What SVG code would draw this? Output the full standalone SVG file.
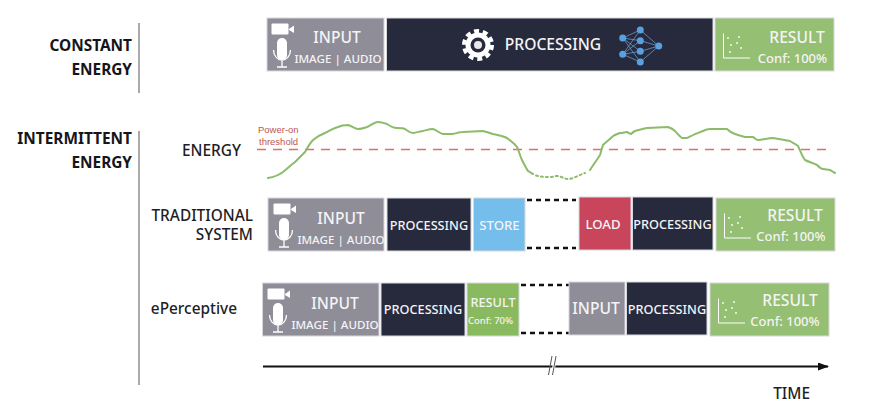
<svg xmlns="http://www.w3.org/2000/svg" width="874" height="412" viewBox="0 0 874 412">
<style>
text{font-family:"Noto Sans","Open Sans","Liberation Sans",sans-serif;font-weight:500}
.box{stroke:#d8d8dc;stroke-width:1}
.gray{fill:#8f8d98}.dark{fill:#272a3d}.green{fill:#95bf72}.green2{fill:#8aba60}.blue{fill:#75bdea}.red{fill:#c8455c}
.w{fill:#f4f4f6;text-anchor:middle}
.t15{font-size:15.600px}.t12{font-size:11.600px}.t13{font-size:12.700px}.t14{font-size:13.200px}.t10{font-size:9.500px}.c{font-size:13px}
.lab{fill:#1e1e24;text-anchor:end;font-size:15.400px}
.hd{fill:#15151a;text-anchor:end;font-size:15.400px;font-weight:700}
.sep{stroke:#aaaaaa;stroke-width:2;fill:none}
.dash{stroke:#111;stroke-width:2.500;stroke-dasharray:5 4;fill:none}
.curve{fill:none;stroke:#8cbb6a;stroke-width:2;stroke-linecap:round;stroke-linejoin:round}
.ln{fill:none;stroke:#6fa8dc;stroke-width:.7}
.nd{fill:#5a9fe0}
.pw{font-family:"Liberation Sans",Arial,sans-serif;font-weight:400;font-size:9.500px;fill:#c0564e}
</style>
<defs>
<g id="av">
<rect x="4.500" y="5.500" width="17" height="11" rx="1" fill="#fff"/>
<polygon points="22,11 27,7.500 27,15 22,12" fill="#fff"/>
<rect x="10" y="20" width="10" height="22" rx="5" fill="#fff"/>
<path d="M6.500 32 a8.500 10 0 0 0 17 0 M15 42 V48.500 M10 49 H20" fill="none" stroke="#fff" stroke-width="1.300"/>
</g>
<g id="plot" fill="#fff">
<path d="M8.500 15.500 V40 H35" fill="none" stroke="#fff" stroke-width="1"/>
<circle cx="13" cy="20" r=".9"/><circle cx="16" cy="27" r=".9"/><circle cx="22" cy="25" r=".9"/><circle cx="24" cy="19" r=".9"/><circle cx="15" cy="34" r=".9"/><circle cx="26" cy="30" r=".9"/>
</g>
<marker id="arr" markerWidth="12" markerHeight="10" refX="10" refY="4" orient="auto" markerUnits="userSpaceOnUse"><path d="M0 0 L11 4 L0 8 Z" fill="#111"/></marker>
</defs>

<g id="row-labels">
<text class="hd" x="132" y="51">CONSTANT</text>
<text class="hd" x="132" y="75">ENERGY</text>
<text class="hd" x="132" y="144">INTERMITTENT</text>
<text class="hd" x="132" y="168">ENERGY</text>
<text class="lab" x="241" y="156">ENERGY</text>
<text class="lab" x="253" y="221">TRADITIONAL</text>
<text class="lab" x="253" y="240">SYSTEM</text>
<text class="lab" x="237" y="314">ePerceptive</text>
<text x="810" y="399" class="lab">TIME</text>
</g>

<g id="connectors">
<line class="sep" x1="139" y1="23" x2="139" y2="93"/>
<line class="sep" x1="139" y1="131" x2="139" y2="385"/>
<path class="dash" d="M527 200 H576 M527 248 H576"/>
<path class="dash" d="M521 285 H569 M521 333 H569"/>
<line x1="263" y1="366.500" x2="828" y2="366.500" stroke="#111" stroke-width="1.800" marker-end="url(#arr)"/>
<polygon points="551,375 554,356 557,356 554,375" fill="#fff"/>
<path d="M548.500 375 L552 356 M552.500 375 L556 356" stroke="#555" stroke-width="1" fill="none"/>
</g>

<g id="energy-curve">
<line x1="257" y1="149.500" x2="832" y2="149.500" stroke="#d9726a" stroke-width="1.300" stroke-dasharray="9 7"/>
<text class="pw" x="258" y="133">Power-on</text>
<text class="pw" x="259" y="145">threshold</text>
<path class="curve" d="M268 178 C274 177 279 175 283 172 C288 168 291 165 295 162 C299 158 302 155 305 152 C308 147 310 143 313 140 C318 136 322 134 327 132 C331 130 334 128 338 127 C342 125 345 125 348 125 C352 126 355 129 358 129 C362 129 364 128 367 127 C371 125 375 122 378 122 C381 122 384 123 387 124 C390 126 393 128 397 128 C400 128 403 128 405 129 C408 131 410 133 413 133 C417 133 420 131 423 131 C427 130 430 129 433 129 C437 130 440 134 443 134 L453 134 C457 133 460 132 463 132 L483 131 C487 132 490 133 493 134 C498 135 503 136 507 138 C511 141 514 143 517 147 C519 151 520 156 522 160 C524 164 526 168 528 171 C530 172 531 173 533 174"/>
<path class="curve" stroke-dasharray="2 3" d="M536 175.500 C541 177 546 177 551 177 C553 177 555 176 557 176 C561 176 564 179 568 179 C573 179 579 175 585 173"/>
<path class="curve" d="M590 170 C593 165 597 160 600 155 C601 152 602 148 603 145 C606 142 609 140 612 137 C614 135 617 134 620 133 C623 133 625 132 627 132 C629 133 630 134 631 134 C632 133 633 132 635 131 C639 130 642 129 647 128 L668 127 C671 128 673 129 675 131 C677 133 679 136 682 138 L687 138 C692 135 698 133 703 131 C705 130 708 129 710 129 L727 129 C729 131 732 133 735 134 C738 135 741 136 745 137 L753 137 C755 138 756 140 758 140 C763 140 768 138 773 138 C779 139 785 140 790 141 C793 143 796 144 798 146 C800 150 802 156 805 160 C809 162 813 163 817 165 C819 167 821 169 823 169 L830 170 C832 171 833 172 835 173"/>
</g>

<g id="c-input"><rect class="box gray" x="267" y="18" width="117" height="53"/><use href="#av" x="267" y="18"/><text class="w t15" x="337" y="43">INPUT</text><text class="w t12" x="338" y="63">IMAGE | AUDIO</text></g>
<g id="c-processing"><rect class="box dark" x="386.500" y="18" width="326.500" height="53"/>
<circle cx="478" cy="45" r="14" fill="none" stroke="#fff" stroke-width="4" stroke-dasharray="5 3.800"/>
<circle cx="478" cy="45" r="12.500" fill="#fff"/><circle cx="478" cy="45" r="7.500" fill="#272a3d"/><circle cx="478" cy="45" r="4" fill="#e8e8ea"/>
<text class="w t15" x="553" y="50">PROCESSING</text>
<path class="ln" d="M622.700 38 L640.300 30 M622.700 38 L640.300 40.700 M622.700 38 L640.300 51.300 M622.700 38 L640.300 62 M622.700 54.300 L640.300 30 M622.700 54.300 L640.300 40.700 M622.700 54.300 L640.300 51.300 M622.700 54.300 L640.300 62 M640.300 30 L658.700 46 M640.300 40.700 L658.700 46 M640.300 51.300 L658.700 46 M640.300 62 L658.700 46"/>
<g class="nd"><circle cx="622.700" cy="38" r="3.500"/><circle cx="622.700" cy="54.300" r="3.500"/><circle cx="640.300" cy="30" r="3.500"/><circle cx="640.300" cy="40.700" r="3.500"/><circle cx="640.300" cy="51.300" r="3.500"/><circle cx="640.300" cy="62" r="3.500"/><circle cx="658.700" cy="46" r="3.500"/></g></g>
<g id="c-result"><rect class="box green" x="715" y="18" width="119" height="53"/><use href="#plot" x="715" y="18"/><text class="w t15" x="797" y="43">RESULT</text><text class="w c" x="792.500" y="63">Conf: 100%</text></g>

<g id="t-input"><rect class="box gray" x="268" y="198" width="116" height="53"/><use href="#av" x="269" y="198"/><text class="w t15" x="341" y="224">INPUT</text><text class="w t12" x="341" y="244">IMAGE | AUDIO</text></g>
<g id="t-processing1"><rect class="box dark" x="387" y="198" width="84" height="53"/><text class="w t13" x="429" y="230">PROCESSING</text></g>
<g id="t-store"><rect class="box blue" x="473.500" y="198" width="51.500" height="53"/><text class="w t14" x="499.500" y="230">STORE</text></g>
<g id="t-load"><rect class="box red" x="579" y="197" width="52" height="53"/><text class="w t14" x="603" y="229">LOAD</text></g>
<g id="t-processing2"><rect class="box dark" x="632.500" y="197" width="80.500" height="53"/><text class="w t13" x="672.500" y="229">PROCESSING</text></g>
<g id="t-result"><rect class="box green" x="716" y="198" width="119" height="53"/><use href="#plot" x="716" y="198"/><text class="w t15" x="795" y="221">RESULT</text><text class="w c" x="791" y="241">Conf: 100%</text></g>

<g id="e-input1"><rect class="box gray" x="262.500" y="283" width="116.500" height="53"/><use href="#av" x="263" y="283"/><text class="w t15" x="335" y="309">INPUT</text><text class="w t12" x="335" y="329">IMAGE | AUDIO</text></g>
<g id="e-processing1"><rect class="box dark" x="381" y="283" width="84" height="53"/><text class="w t13" x="423" y="314">PROCESSING</text></g>
<g id="e-result1"><rect class="box green2" x="467" y="283" width="52" height="53"/><text class="w t13" x="493" y="307">RESULT</text><text class="w t10" x="490.500" y="324">Conf: 70%</text></g>
<g id="e-input2"><rect class="box gray" x="569" y="282" width="56" height="53"/><text class="w t15" x="596" y="314">INPUT</text></g>
<g id="e-processing2"><rect class="box dark" x="626.500" y="282" width="80.500" height="53"/><text class="w t13" x="667" y="314">PROCESSING</text></g>
<g id="e-result2"><rect class="box green" x="710" y="283" width="119" height="53"/><use href="#plot" x="710" y="283"/><text class="w t15" x="790" y="306">RESULT</text><text class="w c" x="785" y="326">Conf: 100%</text></g>
</svg>
